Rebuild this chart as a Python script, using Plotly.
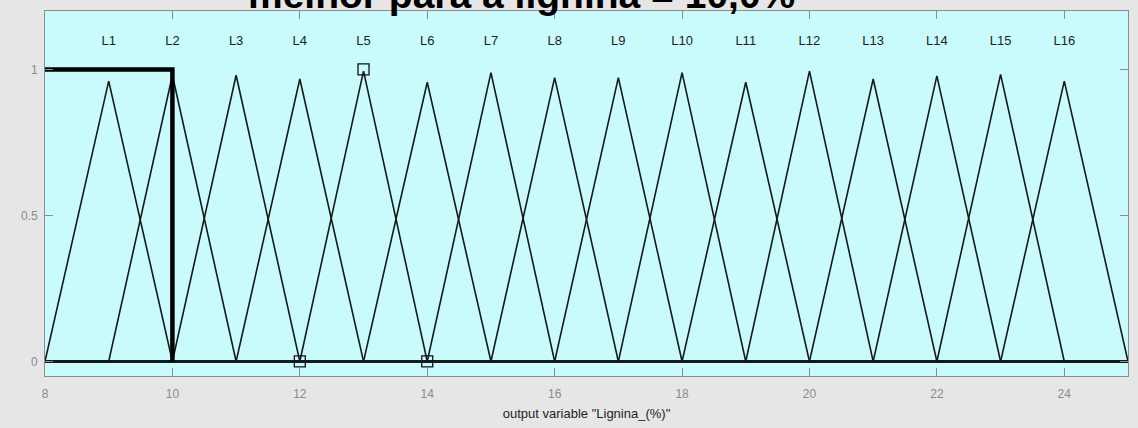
import plotly.graph_objects as go

# Output variable "Lignina_(%)": 16 triangular membership functions
mf_names = ["L1", "L2", "L3", "L4", "L5", "L6", "L7", "L8",
            "L9", "L10", "L11", "L12", "L13", "L14", "L15", "L16"]
mf_left = [8, 9, 10, 11, 12, 13, 14, 15, 16, 17, 18, 19, 20, 21, 22, 23]
mf_peak = [9, 10, 11, 12, 13, 14, 15, 16, 17, 18, 19, 20, 21, 22, 23, 24]
mf_right = [10, 11, 12, 13, 14, 15, 16, 17, 18, 19, 20, 21, 22, 23, 24, 25]
# plotted height at each peak (sampled curve)
mf_height = [0.96, 0.98, 0.98, 0.967, 0.994, 0.956, 0.989, 0.972,
             0.972, 0.989, 0.956, 0.994, 0.967, 0.978, 0.983, 0.96]

x_range = [8, 25]
x_ticks = [8, 10, 12, 14, 16, 18, 20, 22, 24]
y_ticks = [0, 0.5, 1]

# defuzzified result
result_x = [8, 10, 10]
result_y = [1, 1, 0]

# vertices of the selected function (L5)
sel_x = [12, 13, 14]
sel_y = [0, 1, 0]

label_y = 1.095

fig = go.Figure()

for name, a, b, c, h in zip(mf_names, mf_left, mf_peak, mf_right, mf_height):
    xs = [x_range[0], a, b, c, x_range[1]]
    ys = [0, 0, h, 0, 0]
    fig.add_trace(go.Scatter(x=xs, y=ys, mode="lines", name=name,
                             line=dict(color="#141a1a", width=1.6),
                             showlegend=False, hoverinfo="skip"))

fig.add_trace(go.Scatter(x=result_x, y=result_y, mode="lines",
                         line=dict(color="#000000", width=4.5),
                         showlegend=False, hoverinfo="skip"))

fig.add_trace(go.Scatter(x=sel_x, y=sel_y, mode="markers",
                         marker=dict(symbol="square-open", size=11,
                                     color="#111111", line=dict(width=1.3)),
                         showlegend=False, hoverinfo="skip"))

fig.add_trace(go.Scatter(x=mf_peak, y=[label_y] * len(mf_peak), mode="text",
                         text=mf_names,
                         textfont=dict(family="Liberation Sans Narrow, Liberation Sans, Arial",
                                       size=13, color="#1e1e1e"),
                         showlegend=False, hoverinfo="skip"))

fig.add_annotation(text="<b>melhor para a lignina = 10,0%</b>",
                   xref="paper", yref="paper", x=0.44, y=1.044,
                   xanchor="center", yanchor="middle", showarrow=False,
                   font=dict(family="Liberation Sans, Arial", size=39, color="#000000"))

axis_common = dict(showgrid=False, zeroline=False, showline=True,
                   linecolor="#8c8c8c", linewidth=1, mirror="ticks",
                   ticks="inside", ticklen=8, tickcolor="#8c8c8c",
                   tickfont=dict(family="Liberation Sans, Arial", size=12, color="#8a8a8a"))

fig.update_xaxes(range=x_range, tickvals=x_ticks,
                 title=dict(text='output variable "Lignina_(%)"', standoff=8,
                            font=dict(family="Liberation Sans Narrow, Liberation Sans, Arial",
                                      size=13, color="#1e1e1e")),
                 ticklabelstandoff=7, **axis_common)
fig.update_yaxes(range=[-0.05, 1.2], tickvals=y_ticks, ticktext=["0", "0.5", "1"],
                 ticklabelstandoff=4, **axis_common)

fig.update_layout(width=1138, height=428,
                  margin=dict(l=45, r=9, t=11, b=50),
                  paper_bgcolor="#e6e6e6", plot_bgcolor="#c9fbfc")

fig.write_html("out.html")
